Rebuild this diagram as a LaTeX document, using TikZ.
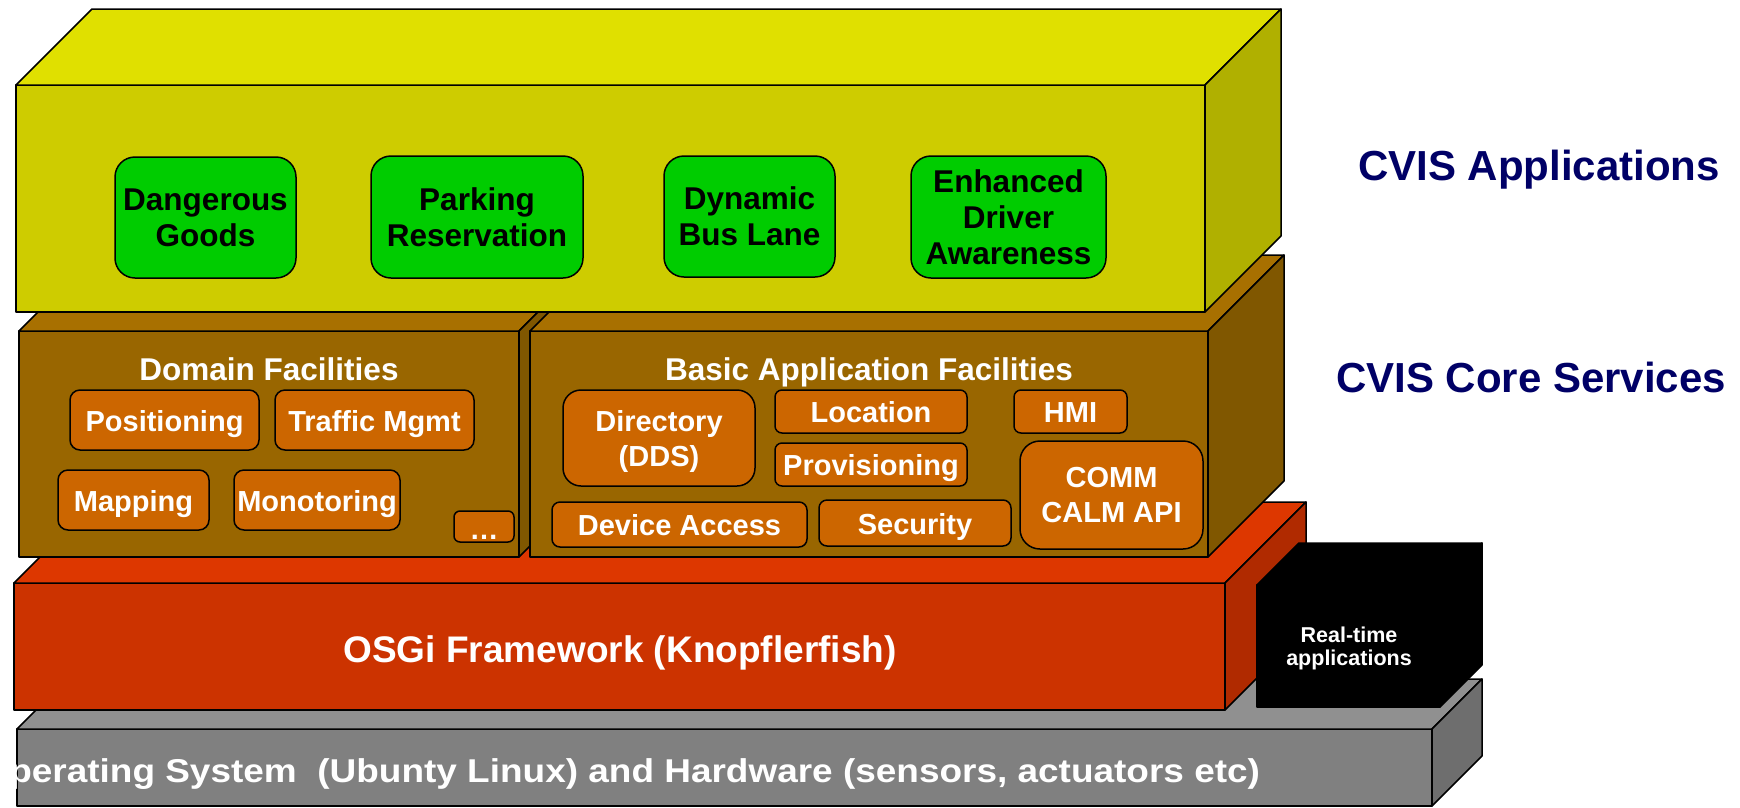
\documentclass[tikz,border=0pt]{standalone}
\usepackage{fontspec}
\setmainfont{Liberation Sans}
\definecolor{YF}{RGB}{206, 204, 0}
\definecolor{YT}{RGB}{224, 224, 0}
\definecolor{YS}{RGB}{176, 176, 0}
\definecolor{GA}{RGB}{0, 204, 0}
\definecolor{BF}{RGB}{153, 102, 0}
\definecolor{BT}{RGB}{168, 112, 0}
\definecolor{BS}{RGB}{128, 87, 0}
\definecolor{OF}{RGB}{204, 102, 0}
\definecolor{RF}{RGB}{204, 51, 0}
\definecolor{RT}{RGB}{221, 55, 0}
\definecolor{RS}{RGB}{176, 42, 0}
\definecolor{GF}{RGB}{128, 128, 128}
\definecolor{GT}{RGB}{144, 144, 144}
\definecolor{GS}{RGB}{110, 110, 110}
\definecolor{NV}{RGB}{0, 0, 102}
% front rectangle, top face and right face of one layer
\newcommand{\layerbox}[8]{%
   \filldraw[outl, fill=#6] (#1,#2) rectangle (#3,#4);
   \filldraw[outl, fill=#7] (#1,#2) -- (#1+#5,#2-#5) -- (#3+#5,#2-#5) -- (#3,#2) -- cycle;
   \filldraw[outl, fill=#8] (#3,#2) -- (#3+#5,#2-#5) -- (#3+#5,#4-#5) -- (#3,#4) -- cycle;
}

\begin{document}
\begin{tikzpicture}[x=1pt, y=-1pt,
   outl/.style={draw=black, line width=1.5pt, line join=round},
   app/.style={outl, fill=GA, align=center, inner sep=0pt,
      font=\bfseries\fontsize{31.5}{36}\selectfont},
   fac/.style={outl, fill=OF, text=white, align=center, inner sep=0pt,
      font=\bfseries\fontsize{29}{35}\selectfont},
   oneline/.style={text height=22pt, text depth=0pt},
   title/.style={text=white, anchor=base, font=\bfseries\fontsize{31.5}{36}\selectfont}]
   \useasboundingbox (0,0) rectangle (1740,807);

   % layers, back to front
   \layerbox{17}{729}{1432}{806}{50}{GF}{GT}{GS}
   \layerbox{14}{583}{1225}{710}{81}{RF}{RT}{RS}
   \layerbox{1257}{585}{1440}{707}{42}{black}{black}{black}
   \layerbox{19}{331}{519}{557}{76}{BF}{BT}{BS}
   \layerbox{530}{331}{1208}{557}{76}{BF}{BT}{BS}
   \layerbox{16}{85}{1205}{312}{76}{YF}{YT}{YS}

   % applications
   \node[app, rounded corners=20pt, minimum width=181pt, minimum height=121pt] (dang) at (205.5,217.5) {Dangerous\\Goods};
   \node[app, rounded corners=20pt, minimum width=212pt, minimum height=122pt] (park) at (477,217) {Parking\\Reservation};
   \node[app, rounded corners=20pt, minimum width=171pt, minimum height=121pt] (bus) at (749.5,216.5) {Dynamic\\Bus Lane};
   \node[app, rounded corners=20pt, minimum width=195pt, minimum height=122pt] (driver) at (1008.5,217) {Enhanced\\Driver\\Awareness};

   % domain facilities
   \node[title] (domt) at (269,380) {Domain Facilities};
   \node[fac, oneline, rounded corners=10pt, minimum width=189pt, minimum height=60pt] (pos) at (164.5,420) {Positioning};
   \node[fac, oneline, rounded corners=10pt, minimum width=199pt, minimum height=60pt] (traf) at (374.5,420) {Traffic Mgmt};
   \node[fac, oneline, rounded corners=10pt, minimum width=151pt, minimum height=60pt] (mapp) at (133.5,500) {Mapping};
   \node[fac, oneline, rounded corners=10pt, minimum width=166pt, minimum height=60pt] (moni) at (317,500) {Monotoring};
   \node[fac, rounded corners=6pt, minimum width=60pt, minimum height=31pt] (more) at (484,526.5) {};
   \node[text=white, font=\bfseries\fontsize{29}{35}\selectfont] (moret) at (484,537) {…};

   % basic application facilities
   \node[title] (bast) at (869,380) {Basic Application Facilities};
   \node[fac, text depth=0pt, rounded corners=18pt, minimum width=192pt, minimum height=96pt] (dir) at (659,438) {Directory\\(DDS)};
   \node[fac, oneline, rounded corners=7pt, minimum width=192pt, minimum height=43pt] (loc) at (871,411.5) {Location};
   \node[fac, oneline, rounded corners=7pt, minimum width=192pt, minimum height=43pt] (prov) at (871,464.5) {Provisioning};
   \node[fac, oneline, rounded corners=7pt, minimum width=113pt, minimum height=43pt] (hmi) at (1070.5,411.5) {HMI};
   \node[fac, rounded corners=20pt, minimum width=183pt, minimum height=108pt] (comm) at (1111.5,495) {COMM\\CALM API};
   \node[fac, oneline, rounded corners=8pt, minimum width=255pt, minimum height=45pt] (dev) at (679.5,524.5) {Device Access};
   \node[fac, oneline, rounded corners=8pt, minimum width=192pt, minimum height=46pt] (sec) at (915,523) {Security};

   % lower layers
   \node[anchor=base, text=white, font=\bfseries\fontsize{37}{44}\selectfont] (osgi) at (620,662) {OSGi Framework (Knopflerfish)};
   \node[anchor=base east, text=white, xscale=1.12, transform shape, font=\bfseries\fontsize{33}{40}\selectfont] (os) at (1264,782) {Operating System\ \ (Ubunty Linux) and Hardware (sensors, actuators etc)};
   \node[text=white, align=center, font=\bfseries\fontsize{21.5}{23}\selectfont] (rt) at (1349,648) {Real-time\\applications};

   % layer names
   \node[anchor=base, text=NV, font=\bfseries\fontsize{42}{50}\selectfont] (apps) at (1539,180) {CVIS Applications};
   \node[anchor=base, text=NV, font=\bfseries\fontsize{42}{50}\selectfont] (core) at (1531,392) {CVIS Core Services};
\end{tikzpicture}
\end{document}
